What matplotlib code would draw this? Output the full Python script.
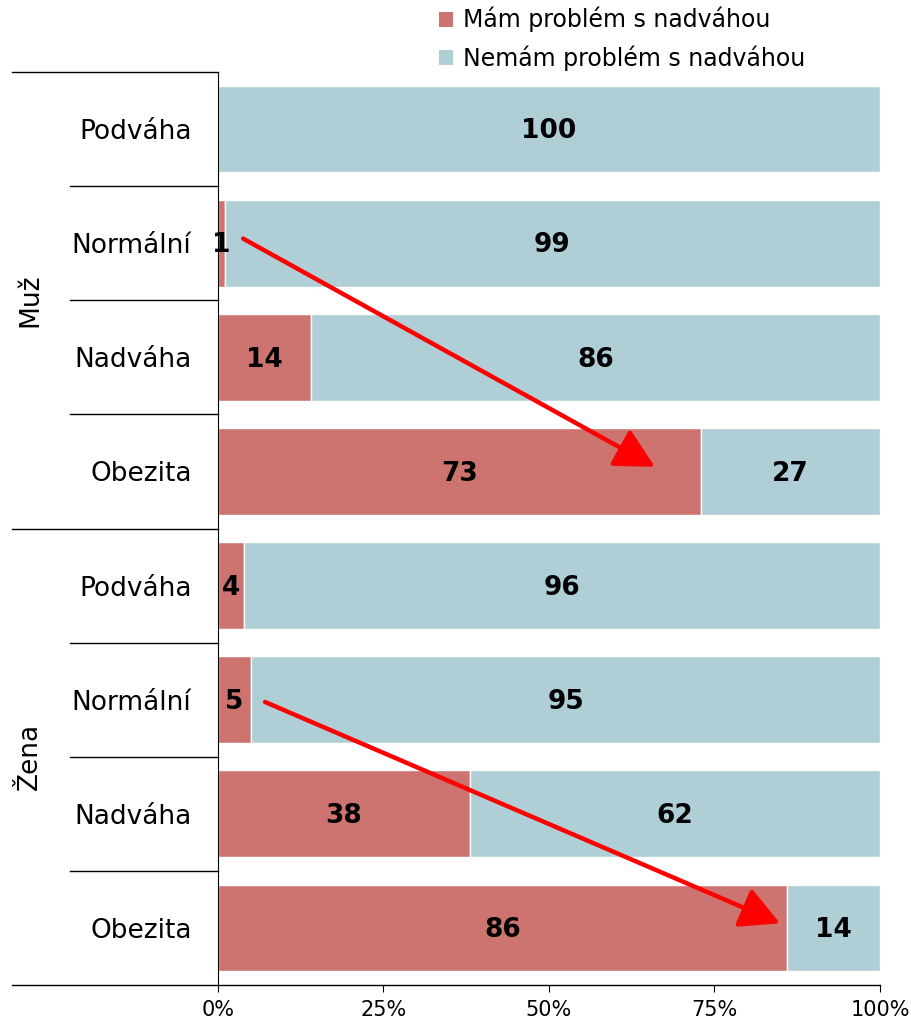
import matplotlib.pyplot as plt
from matplotlib.patches import Patch
import numpy as np

# data
categories = ['Podváha', 'Normální', 'Nadváha', 'Obezita',
              'Podváha', 'Normální', 'Nadváha', 'Obezita']
groups = ['Muž', 'Žena']
has_problem = [0, 1, 14, 73, 4, 5, 38, 86]
no_problem = [100, 99, 86, 27, 96, 95, 62, 14]
series_names = ['Mám problém s nadváhou', 'Nemám problém s nadváhou']
tick_labels = ['0%', '25%', '50%', '75%', '100%']

red = '#CD7470'
blue = '#B0CED6'

plt.rcParams['font.family'] = 'DejaVu Sans'

fig = plt.figure(figsize=(9.12, 10.21), dpi=100)
ax = fig.add_axes([218 / 912, 1 - 985 / 1021, 662 / 912, 913 / 1021])

y = np.arange(len(categories))
ax.barh(y, has_problem, height=0.76, color=red, edgecolor='white', linewidth=1)
ax.barh(y, no_problem, left=has_problem, height=0.76, color=blue,
        edgecolor='white', linewidth=1)

for i in range(len(categories)):
    a, b = has_problem[i], no_problem[i]
    if a > 0:
        ax.text(a / 2, i + 0.02, str(a), ha='center', va='center',
                fontsize=19, fontweight='bold', color='black')
    ax.text(a + b / 2, i + 0.02, str(b), ha='center', va='center',
            fontsize=19, fontweight='bold', color='black')

ax.set_ylim(len(categories) - 0.5, -0.5)
ax.set_xlim(0, 100)
ax.set_yticks(y)
ax.set_yticklabels(categories, fontsize=19)
ax.tick_params(axis='y', length=0, pad=19)
ax.set_xticks([0, 25, 50, 75, 100])
ax.set_xticklabels(tick_labels, fontsize=15)
ax.tick_params(axis='x', length=5, direction='out', pad=6)

for s in ['top', 'right']:
    ax.spines[s].set_visible(False)
ax.spines['bottom'].set_visible(False)

# separator lines on the left side
trans = ax.get_yaxis_transform()
x_cat = (70 - 218) / 662
x_grp = (12 - 218) / 662
for b in np.arange(-0.5, len(categories), 1.0):
    xs = x_grp if b in (-0.5, 3.5, 7.5) else x_cat
    xe = 1.0 if b == 7.5 else 0.0
    ax.plot([xs, xe], [b, b], color='black', lw=1, transform=trans,
            clip_on=False)

# group labels
for gi, g in enumerate(groups):
    ax.text((30 - 218) / 662, gi * 4 + 1.5, g, rotation=90, ha='center',
            va='center', fontsize=19, transform=trans)

# arrows
arrow_kw = dict(arrowstyle='-|>,head_length=1.05,head_width=0.55',
                color='#FF0000', lw=3.2, mutation_scale=23,
                shrinkA=0, shrinkB=0)
ax.annotate('', xy=(66.0, 2.96), xytext=(3.8, 0.96), arrowprops=arrow_kw)
ax.annotate('', xy=(84.9, 6.96), xytext=(7.1, 5.02), arrowprops=arrow_kw)

handles = [Patch(facecolor=red), Patch(facecolor=blue)]
fig.legend(handles, series_names, loc='upper left',
           bbox_to_anchor=(418 / 912, 1.014), frameon=False, fontsize=17,
           handlelength=0.6, handleheight=0.6, handletextpad=0.4,
           labelspacing=0.55)

fig.savefig('out.png', dpi=100)
